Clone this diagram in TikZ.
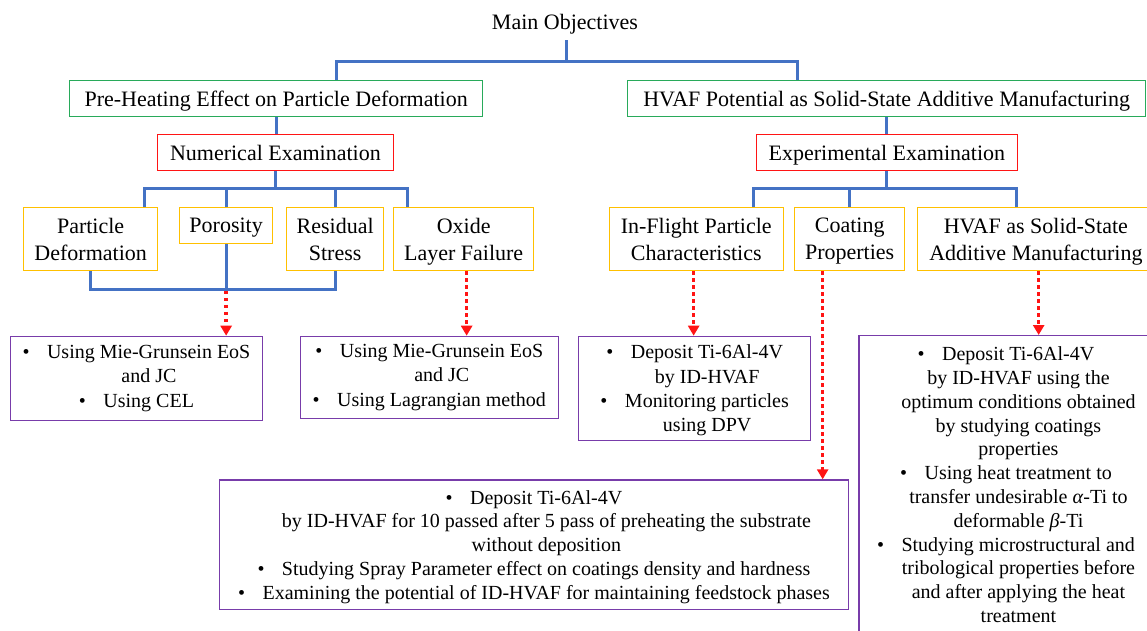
\documentclass[tikz,border=0pt]{standalone}
\usepackage{fontspec}
\setmainfont{Liberation Serif}
\usetikzlibrary{arrows.meta}
\definecolor{cblue}{RGB}{68,114,196}
\definecolor{cgreen}{RGB}{40,170,90}
\definecolor{cred}{RGB}{255,20,20}
\definecolor{cyel}{RGB}{255,192,0}
\definecolor{cpurp}{RGB}{120,60,170}
\newcommand{\myb}{\textbullet\hspace{17.5pt}}
\newcommand{\myc}{\hspace*{25pt}}
\begin{document}
\begin{tikzpicture}[x=1pt,y=-1pt,
  hd/.style={font=\fontsize{22}{27}\selectfont, align=center, inner sep=0pt, anchor=north west, text depth=0pt},
  gbox/.style={hd, draw=cgreen, line width=1.3pt, minimum height=36pt},
  rbox/.style={hd, draw=cred, line width=1.3pt, minimum height=36pt},
  ybox/.style={hd, draw=cyel, line width=1.3pt},
  pbox/.style={align=center, inner sep=0pt, anchor=north west, draw=cpurp, line width=1.3pt},
  conn/.style={draw=cblue, line width=3pt},
  dotarrow/.style={draw=cred, line width=3.5pt, dash pattern=on 3.5pt off 3.5pt, -{Triangle[width=11pt,length=10pt]}}
]
\useasboundingbox (0,0) rectangle (1147,630);
\clip (0,0) rectangle (1147,630);

% title
\node[font=\fontsize{22}{27}\selectfont, inner sep=0pt, anchor=base] (title) at (565,29) {Main Objectives};
\coordinate (t0) at (566,40);

% level 1
\node[gbox, minimum width=413pt] (g1) at (69,80) {Pre-Heating Effect on Particle Deformation};
\node[gbox, minimum width=518pt] (g2) at (627,80) {HVAF Potential as Solid-State Additive Manufacturing};

% level 2
\node[rbox, minimum width=235.5pt] (r1) at (157,134) {Numerical Examination};
\node[rbox, minimum width=261.5pt] (r2) at (755.5,134) {Experimental Examination};

% level 3
\node[ybox, minimum width=134pt, minimum height=63pt] (y1) at (23,207) {Particle\\Deformation};
\node[ybox, minimum width=93pt, minimum height=36pt] (y2) at (179,207) {Porosity};
\node[ybox, minimum width=97pt, minimum height=63pt] (y3) at (286,207) {Residual\\Stress};
\node[ybox, minimum width=140pt, minimum height=63pt] (y4) at (393,207) {Oxide\\Layer Failure};
\node[ybox, minimum width=174pt, minimum height=63pt] (y5) at (608.6,207) {In-Flight Particle\\Characteristics};
\node[ybox, minimum width=110pt, minimum height=63pt] (y6) at (794,207) {Coating\\Properties};
\node[ybox, minimum width=237pt, minimum height=63pt] (y7) at (916.7,207) {HVAF as Solid-State\\Additive Manufacturing};

% level 4
\node[pbox, font=\fontsize{20}{24.5}\selectfont, minimum width=251.6pt, minimum height=84.3pt] (p1) at (10,335.7)
  {\myb Using Mie-Grunsein EoS\\\myc and JC\\\myb Using CEL};
\node[pbox, font=\fontsize{20}{24.5}\selectfont, minimum width=257.8pt, minimum height=82pt] (p2) at (299.7,335.7)
  {\myb Using Mie-Grunsein EoS\\\myc and JC\\\myb Using Lagrangian method};
\node[pbox, font=\fontsize{20}{24.2}\selectfont, text depth=0pt, minimum width=232pt, minimum height=104pt] (p3) at (578,335.7)
  {\myb Deposit Ti-6Al-4V\\\myc by ID-HVAF\\\myb Monitoring particles\\\myc using DPV};
\node[pbox, font=\fontsize{20}{23.8}\selectfont, minimum width=294pt, minimum height=298pt] (p4) at (858.3,335)
  {\myb Deposit Ti-6Al-4V\\
   \myc by ID-HVAF using the\\
   \myc optimum conditions obtained\\
   \myc by studying coatings\\
   \myc properties\\
   \myb Using heat treatment to\\
   \myc transfer undesirable \textit{α}-Ti to\\
   \myc deformable \textit{β}-Ti\\
   \myb Studying microstructural and\\
   \myc tribological properties before\\
   \myc and after applying the heat\\
   \myc treatment};
\node[pbox, font=\fontsize{20}{23.8}\selectfont, text depth=0pt, minimum width=628.6pt, minimum height=129.7pt] (p5) at (219,479.3)
  {\myb Deposit Ti-6Al-4V\\
   \myc by ID-HVAF for 10 passed after 5 pass of preheating the substrate\\
   \myc without deposition\\
   \myb Studying Spray Parameter effect on coatings density and hardness\\
   \myb Examining the potential of ID-HVAF for maintaining feedstock phases};

% dotted red arrows
\draw[conn] (y1.south) -- ++(0,18) coordinate (jB0) -| (y3.south);
\coordinate (jB) at (y2.south |- jB0);
\draw[dotarrow] ([yshift=-1.5pt]jB) -- (jB |- p1.north);
\draw[dotarrow] ([xshift=3pt]y4.south) -- ([xshift=3pt]y4.south |- p2.north);
\draw[dotarrow] ([xshift=-2.6pt]y5.south) -- ([xshift=-2.6pt]y5.south |- p3.north);
\draw[dotarrow] ([xshift=-27pt]y6.south) -- ([xshift=-27pt]y6.south |- p5.north);
\draw[dotarrow] ([xshift=2.8pt]y7.south) -- ([xshift=2.8pt]y7.south |- p4.north);

% blue connectors
\draw[conn] (t0) -- ++(0,21) -| ([xshift=60.5pt]g1.north);
\draw[conn] (t0) -- ++(0,21) -| ([xshift=-89pt]g2.north);
\draw[conn] (g1.south) -- (g1.south |- r1.north);
\draw[conn] (g2.south) -- (g2.south |- r2.north);

\draw[conn] (r1.south) -- ++(0,17) coordinate (jL);
\draw[conn] ([xshift=54pt]y1.north) |- (jL) -| ([xshift=-56pt]y4.north);
\draw[conn] (y2.north) -- (y2.north |- jL);
\draw[conn] (y3.north) -- (y3.north |- jL);
\draw[conn] (y2.south) -- (jB);

\draw[conn] (r2.south) -- ++(0,17) coordinate (jR);
\draw[conn] ([xshift=57.4pt]y5.north) |- (jR) -| ([xshift=-19.2pt]y7.north);
\draw[conn] (y6.north) -- (y6.north |- jR);
\end{tikzpicture}
\end{document}
